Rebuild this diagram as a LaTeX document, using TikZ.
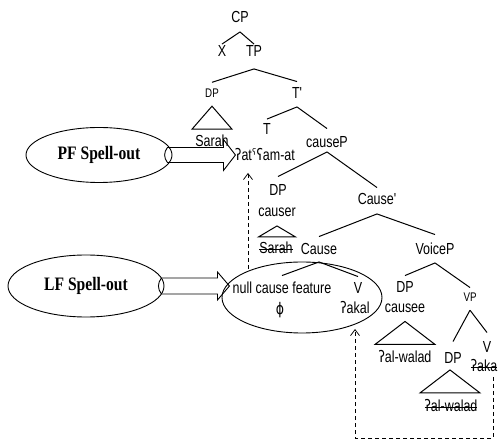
\documentclass[tikz,border=0pt]{standalone}
\usepackage{fontspec}
\usetikzlibrary{shapes.geometric,arrows.meta,calc}
\newfontfamily\treefont[FakeStretch=0.78]{Liberation Sans}
\newfontfamily\ipafont[FakeStretch=0.78]{DejaVu Sans}
\newfontfamily\spellfont[FakeStretch=0.82]{Liberation Serif}
\newcommand\gs{{\ipafont ʔ}}
\newcommand\rgs{{\ipafont ʕ}}
\newcommand\phar{{\ipafont ˁ}}
\newsavebox\strkbox
\newcommand\strk[1]{\sbox\strkbox{#1}\rlap{\usebox\strkbox}\rule[4pt]{\wd\strkbox}{0.75pt}}
\newcommand\br[4]{\draw[tl] ([yshift=-#3pt]#1.south) -- ([yshift=#4pt]#2.north);}
\begin{document}
\begin{tikzpicture}[x=1pt,y=-1pt,
 tn/.style={font=\fontsize{16}{18}\selectfont\treefont, inner sep=1pt, text height=11.5pt, text depth=0pt},
 sm/.style={font=\fontsize{12.5}{14}\selectfont\treefont, inner sep=1pt, text height=9pt, text depth=0pt},
 ell/.style={draw, ellipse, inner sep=0pt, line width=0.9pt},
 spell/.style={font=\fontsize{19}{21}\selectfont\spellfont\bfseries},
 blk/.style={draw, line width=0.9pt},
 tl/.style={line width=1pt},
 dsh/.style={draw, dash pattern=on 4pt off 3pt, line width=0.75pt, -{Straight Barb[length=6pt,width=9pt]}},
 ]
\useasboundingbox (0,0) rectangle (498,443);
% ellipses
\node[ell, spell, minimum width=146pt, minimum height=55pt] (PF) at (99,155) {PF Spell-out};
\node[ell, spell, minimum width=156pt, minimum height=62pt] (LF) at (86,286) {LF Spell-out};
\node[ell, minimum width=160pt, minimum height=71pt] (nullell) at (302,297.5) {};
% block arrows
\draw[blk] ([xshift=-5pt,yshift=7.5pt]PF.east) -- ++(56,0) -- ++(0,-8) -- ++(12,15.5) -- ++(-12,15.5) -- ++(0,-8) -- ++(-56,0) to[bend left=40] cycle;
\draw[blk] ([xshift=-3pt,yshift=8pt]LF.east) -- ++(56,0) -- ++(0,-6) -- ++(12,14) -- ++(-12,14) -- ++(0,-6) -- ++(-56,0) to[bend left=40] cycle;
% tree labels
\node[tn] (CP) at (240,17) {CP};
\node[tn] (X) at (222,51) {X};
\node[tn] (TP) at (254,51) {TP};
\node[sm] (DPa) at (212,93) {DP};
\node[tn] (Tb) at (297,93) {T'};
\node[tn] (Sarah1) at (212,141) {Sarah};
\node[tn] (T) at (267,129) {T};
\node[tn] (atam) at (265,155) {\gs at\phar\rgs am-at};
\node[tn] (causeP) at (327,142) {causeP};
\node[tn] (DPb) at (278,190) {DP};
\node[tn] (causer) at (277,211) {causer};
\node[tn] (Sarah2) at (276,248) {\strk{Sarah}};
\node[tn] (Causeb) at (377,199) {Cause'};
\node[tn] (Cause) at (319,249) {Cause};
\node[tn] (VoiceP) at (435,249) {VoiceP};
\node[tn] (null) at (282,288) {null cause feature};
\node[tn] (V1) at (358,288) {V};
\node[tn] (phi) at (280,309) {{\ipafont ϕ}};
\node[tn] (akal) at (355,308) {\gs akal};
\node[tn] (DPc) at (405,287) {DP};
\node[tn] (causee) at (405,307) {causee};
\node[sm] (VPs) at (470,297) {VP};
\node[tn] (walad1) at (405,357) {\gs al-walad};
\node[tn] (DPd) at (453,358) {DP};
\node[tn] (V2) at (487,347) {V};
\node[tn] (aka) at (484,366) {\strk{\gs aka}};
\node[tn] (walad2) at (451,406) {\strk{\gs al-walad}};
% branches
\br{CP}{X}{8}{0}
\br{CP}{TP}{8}{0}
\br{TP}{DPa}{11}{5}
\br{TP}{Tb}{11}{4.5}
\br{Tb}{T}{7}{3}
\br{Tb}{causeP}{7}{6.5}
\br{causeP}{DPb}{3}{6.5}
\br{causeP}{Causeb}{3}{4.5}
\br{Causeb}{Cause}{8}{5.5}
\br{Causeb}{VoiceP}{8}{7.5}
\br{Cause}{null}{6}{5.5}
\br{Cause}{V1}{6}{4.5}
\br{VoiceP}{DPc}{7}{4.5}
\br{VoiceP}{VPs}{7}{3.75}
\br{VPs}{DPd}{7.5}{9.5}
\br{VPs}{V2}{7.5}{7.5}
% triangles
\draw[tl] ([yshift=-7.5pt]DPa.south) -- ++(-20,23) -- ++(40,0) -- cycle;
\draw[tl] ([yshift=-8pt]causer.south) -- ++(-18.5,11) -- ++(37,0) -- cycle;
\draw[tl] ([yshift=-7.5pt]causee.south) -- ++(-30,23) -- ++(60,0) -- cycle;
\draw[tl] ([xshift=-3pt,yshift=-5pt]DPd.south) -- ++(-30,23) -- ++(60,0) -- cycle;
% dashed movement arrows
\coordinate (dA) at (248,269);
\draw[dsh] (dA) -- ($(atam.south -| dA)+(0,11)$);
\coordinate (dC) at (493,377);
\coordinate (dE) at (355,329);
\draw[dsh] (dC) -- ++(0,61) -| (dE);
\end{tikzpicture}
\end{document}
